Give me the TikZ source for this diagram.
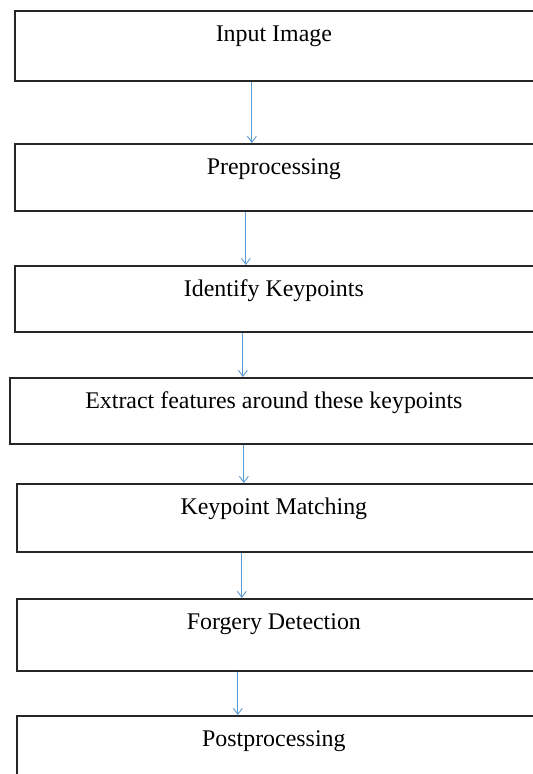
\documentclass[tikz,border=0pt]{standalone}
\usepackage{fontspec}
\setmainfont{Liberation Serif}
\usetikzlibrary{arrows.meta}

\begin{document}
\begin{tikzpicture}[x=1bp,y=1bp]
\tikzstyle{stepbox}=[draw=black!85, line width=1.7bp, rectangle, anchor=north west,
  minimum width=540bp, inner xsep=0pt, inner ysep=0pt, text height=31bp,
  font=\fontsize{24}{26}\selectfont, text=black]
\tikzstyle{flow}=[draw={rgb,255:red,91;green,155;blue,213}, line width=1bp,
  -{Straight Barb[length=6bp,width=9bp,line width=0.9bp]}]
\useasboundingbox (0,0) rectangle (533,-774);
\clip (0,0) rectangle (533,-774);
\node [stepbox, text depth=39bp] (input) at (14,-10) {\hspace*{-22bp}Input Image};
\node [stepbox, text depth=36bp] (prep) at (14,-143) {\hspace*{-22bp}Preprocessing};
\node [stepbox, text depth=35bp] (ident) at (14,-265) {\hspace*{-22bp}Identify Keypoints};
\node [stepbox, text depth=35bp] (extr) at (9,-377) {\hspace*{-12bp}Extract features around these keypoints};
\node [stepbox, text depth=37bp] (match) at (16,-483) {\hspace*{-26bp}Keypoint Matching};
\node [stepbox, text depth=41bp] (forg) at (16,-598) {\hspace*{-26bp}Forgery Detection};
\node [stepbox, text depth=41bp] (post) at (16,-715) {\hspace*{-26bp}Postprocessing};
\draw [flow] ([xshift=-33bp]input.south) -- ([xshift=-33bp]input.south |- prep.north);
\draw [flow] ([xshift=-39bp]prep.south) -- ([xshift=-39bp]prep.south |- ident.north);
\draw [flow] ([xshift=-42bp]ident.south) -- ([xshift=-42bp]ident.south |- extr.north);
\draw [flow] ([xshift=-36bp]extr.south) -- ([xshift=-36bp]extr.south |- match.north);
\draw [flow] ([xshift=-45bp]match.south) -- ([xshift=-45bp]match.south |- forg.north);
\draw [flow] ([xshift=-49bp]forg.south) -- ([xshift=-49bp]forg.south |- post.north);
\end{tikzpicture}
\end{document}
